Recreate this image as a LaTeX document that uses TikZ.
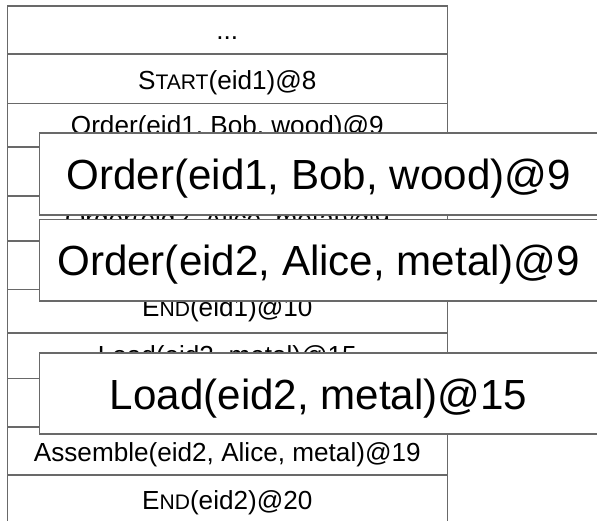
\documentclass[tikz,border=0pt]{standalone}
\usepackage{fontspec}
\setmainfont{Liberation Sans}
\definecolor{linegray}{RGB}{105,105,105}
% fake small caps: first letter full size, rest reduced
\newcommand{\fsc}[2]{#1{\fontsize{15.8}{18}\selectfont #2}}
\begin{document}
\begin{tikzpicture}[x=0.75pt,y=-0.75pt,
  grid/.style={draw=linegray,line width=1.2pt},
  rowtext/.style={anchor=base,inner sep=0pt,font=\fontsize{19.6}{23}\selectfont},
  zoombox/.style={draw=linegray,fill=white,line width=1.2pt},
  zoomtext/.style={anchor=base,inner sep=0pt,font=\fontsize{31.6}{38}\selectfont}]
\useasboundingbox (0,0) rectangle (597,521);
\clip (0,0) rectangle (597,521);

% event table: open at the bottom
\draw[grid] (7.3,540) -- (7.3,5.7) -- (447.3,5.7) -- (447.3,540);
\foreach \yy in {54,103.3,146.7,196,240.7,289.3,332.7,378.3,426.7,475}
  \draw[grid] (7.3,\yy) -- (447.3,\yy);

% table rows
\node[rowtext] (r0)  at (227.3,40)    {...};
\node[rowtext] (r1)  at (227.3,89.3)  {\fsc{S}{TART}(eid1)@8};
\node[rowtext] (r2)  at (227.3,134.4) {Order(eid1, Bob, wood)@9};
\node[rowtext] (r4)  at (227.3,228)   {Order(eid2, Alice, metal)@9};
\node[rowtext] (r6)  at (227.3,316.7) {\fsc{E}{ND}(eid1)@10};
\node[rowtext] (r7)  at (227.3,364.4) {Load(eid2, metal)@15};
\node[rowtext] (r9)  at (227.3,461)   {Assemble(eid2, Alice, metal)@19};
\node[rowtext] (r10) at (227.3,509.3) {\fsc{E}{ND}(eid2)@20};

% magnified events laid over the table
\draw[zoombox] (39.3,132.7) rectangle (605,215);
\node[zoomtext] (z1) at (318.7,189.8) {Order(eid1, Bob, wood)@9};
\draw[zoombox] (39.3,219.3) rectangle (605,300.7);
\node[zoomtext] (z2) at (318.7,275.3) {Order(eid2, Alice, metal)@9};
\draw[zoombox] (39.3,352.7) rectangle (605,434);
\node[zoomtext] (z3) at (318.7,409.8) {Load(eid2, metal)@15};
\end{tikzpicture}
\end{document}
